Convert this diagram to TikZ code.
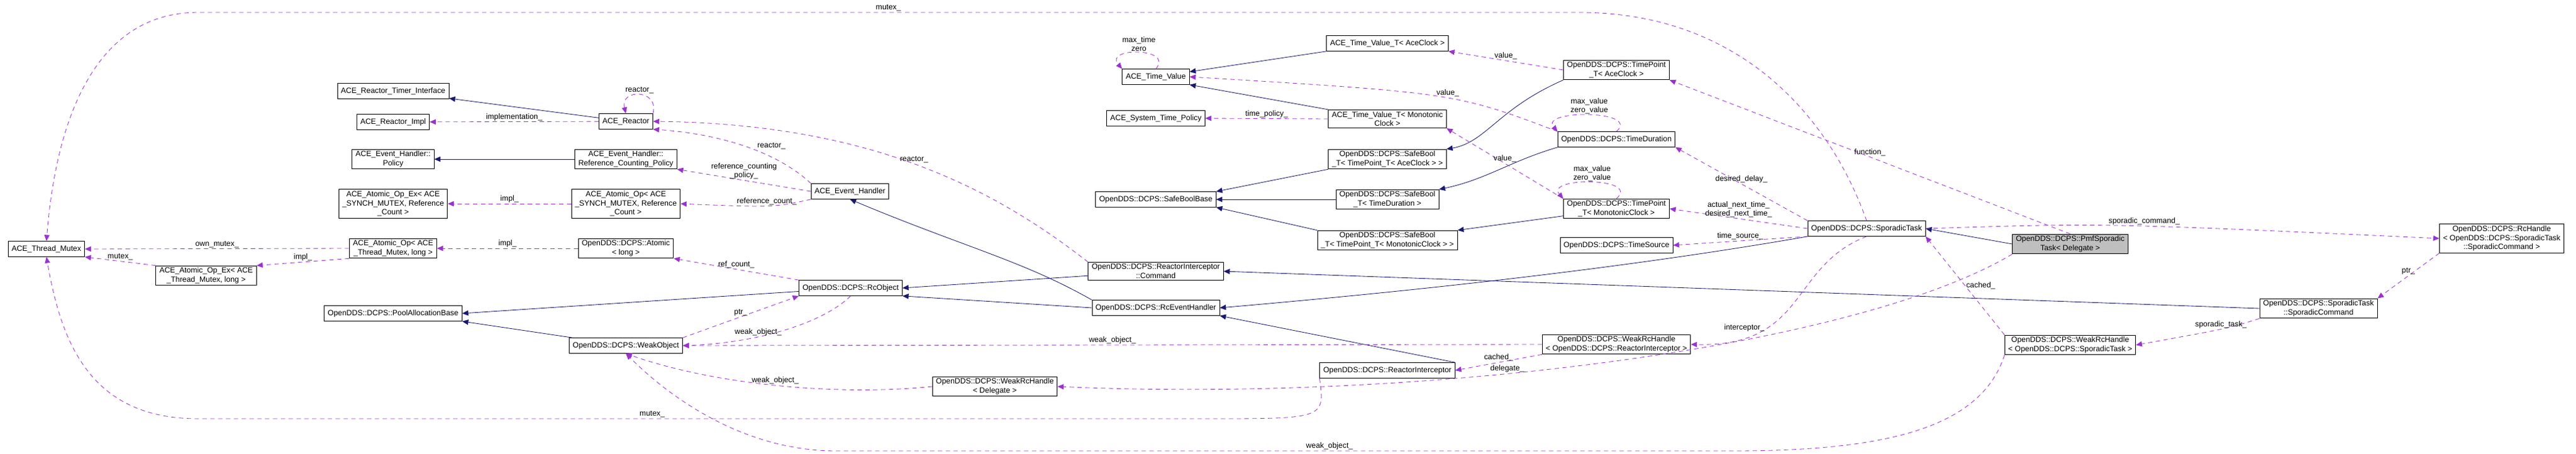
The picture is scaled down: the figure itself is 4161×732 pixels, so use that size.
\documentclass[tikz,border=0pt]{standalone}
\usepackage{fontspec}
\setmainfont{Liberation Sans}
\usetikzlibrary{arrows.meta}
\definecolor{inhcol}{HTML}{191970}
\definecolor{usecol}{HTML}{9A32CD}
\begin{document}
\begin{tikzpicture}[x=0.025cm, y=-0.025cm]

\tikzstyle{box}=[rectangle, draw, semithick, align=center, inner xsep=4pt, inner ysep=2pt, minimum height=0.62cm, font=\fontsize{8.8}{10.4}\selectfont]
\tikzstyle{inh}=[-{Triangle[length=7pt,width=6pt]}, inhcol, semithick]
\tikzstyle{use}=[-{Triangle[length=7pt,width=6pt]}, usecol, semithick, dash pattern=on 5pt off 4pt]
\tikzstyle{lbl}=[font=\fontsize{8.8}{10}\selectfont, text=black, inner sep=1pt, align=center]

\useasboundingbox (0,0) rectangle (4161,732);

% left column
\node (TM) [box] at (75,402) {ACE\_Thread\_Mutex};
\node (AOExTM) [box] at (333,445) {ACE\_Atomic\_Op\_Ex< ACE\\\_Thread\_Mutex, long >};
\node (RTI) [box] at (635,147) {ACE\_Reactor\_Timer\_Interface};
\node (RImpl) [box] at (635,197) {ACE\_Reactor\_Impl};
\node (Pol) [box] at (635,257) {ACE\_Event\_Handler::\\Policy};
\node (AOExS) [box] at (635,329) {ACE\_Atomic\_Op\_Ex< ACE\\\_SYNCH\_MUTEX, Reference\\\_Count >};
\node (AOTM) [box] at (635,401) {ACE\_Atomic\_Op< ACE\\\_Thread\_Mutex, long >};
\node (PAB) [box] at (635,506) {OpenDDS::DCPS::PoolAllocationBase};

\node (Reac) [box] at (1011,196) {ACE\_Reactor};
\node (RCP) [box] at (1011,257) {ACE\_Event\_Handler::\\Reference\_Counting\_Policy};
\node (AOS) [box] at (1011,329) {ACE\_Atomic\_Op< ACE\\\_SYNCH\_MUTEX, Reference\\\_Count >};
\node (Atom) [box] at (1011,401) {OpenDDS::DCPS::Atomic\\< long >};
\node (WO) [box] at (1011,558) {OpenDDS::DCPS::WeakObject};

\node (EH) [box] at (1373,309) {ACE\_Event\_Handler};
\node (RcO) [box] at (1374,465) {OpenDDS::DCPS::RcObject};
\node (WRHD) [box] at (1607,624) {OpenDDS::DCPS::WeakRcHandle\\< Delegate >};

% middle column
\node (TV) [box] at (1867,124) {ACE\_Time\_Value};
\node (STP) [box] at (1867,191) {ACE\_System\_Time\_Policy};
\node (SBB) [box] at (1867,322) {OpenDDS::DCPS::SafeBoolBase};
\node (Cmd) [box] at (1867,438) {OpenDDS::DCPS::ReactorInterceptor\\::Command};
\node (REH) [box] at (1867,497) {OpenDDS::DCPS::RcEventHandler};

\node (TVA) [box] at (2241,70) {ACE\_Time\_Value\_T< AceClock >};
\node (TVM) [box] at (2241,192) {ACE\_Time\_Value\_T< Monotonic\\Clock >};
\node (SBA) [box] at (2241,257) {OpenDDS::DCPS::SafeBool\\\_T< TimePoint\_T< AceClock > >};
\node (SBD) [box] at (2241,322) {OpenDDS::DCPS::SafeBool\\\_T< TimeDuration >};
\node (SBM) [box] at (2241,388) {OpenDDS::DCPS::SafeBool\\\_T< TimePoint\_T< MonotonicClock > >};
\node (RI) [box] at (2241,598) {OpenDDS::DCPS::ReactorInterceptor};

\node (TPA) [box] at (2611,113) {OpenDDS::DCPS::TimePoint\\\_T< AceClock >};
\node (TD) [box] at (2611,225) {OpenDDS::DCPS::TimeDuration};
\node (TPM) [box] at (2611,337) {OpenDDS::DCPS::TimePoint\\\_T< MonotonicClock >};
\node (TS) [box] at (2611,396) {OpenDDS::DCPS::TimeSource};
\node (WRHR) [box] at (2611,556) {OpenDDS::DCPS::WeakRcHandle\\< OpenDDS::DCPS::ReactorInterceptor >};

% right side
\node (ST) [box] at (3015,369) {OpenDDS::DCPS::SporadicTask};
\node (Pmf) [box, fill=black!25] at (3344,394) {OpenDDS::DCPS::PmfSporadic\\Task< Delegate >};
\node (WRHS) [box] at (3344,557) {OpenDDS::DCPS::WeakRcHandle\\< OpenDDS::DCPS::SporadicTask >};
\node (SC) [box] at (3745,498) {OpenDDS::DCPS::SporadicTask\\::SporadicCommand};
\node (RH) [box] at (4041,385) {OpenDDS::DCPS::RcHandle\\< OpenDDS::DCPS::SporadicTask\\::SporadicCommand >};

% inheritance
\draw [inh] (Reac) -- (RTI);
\draw [inh] (RCP) -- (Pol);
\draw [inh] (TVA.south west) -- (TV);
\draw [inh] (TVM.north west) -- (TV.south east);
\draw [inh] (SBA.south west) -- (SBB.north east);
\draw [inh] (SBD) -- (SBB);
\draw [inh] (SBM.north west) -- (SBB.south east);
\draw [inh] (TPA.south west) .. controls (2420,175) and (2400,230) .. (SBA.north east);
\draw [inh] (TD.south west) .. controls (2440,260) and (2400,290) .. (SBD.north east);
\draw [inh] (TPM) -- (SBM.north east);
\draw [inh] (RcO) -- (PAB.east);
\draw [inh] (WO) -- (PAB.south east);
\draw [inh] (Cmd) -- (RcO.east);
\draw [inh] (REH.west) -- (RcO.south east);
\draw [inh] (REH.north west) .. controls (1650,420) and (1560,400) .. (EH.south);
\draw [inh] (RI.north east) -- (REH.south east);
\draw [inh] (ST.south west) .. controls (2700,420) and (2400,460) .. (REH.east);
\draw [inh] (Pmf.west) -- (ST.east);
\draw [inh] (SC.west) -- (Cmd.east);

% usage
\draw [use] (Reac) -- node[lbl, above] {implementation\_} (RImpl);
\draw [use] (Reac.north east) .. controls +(10,-40) and +(-10,-40) .. node[lbl, above] {reactor\_} (Reac.north);
\draw [use] (EH.north west) .. controls (1250,240) and (1150,215) .. node[lbl, above right, pos=.4] {reactor\_} (Reac.south east);
\draw [use] (Cmd.north west) .. controls (1600,300) and (1400,200) .. node[lbl, above, pos=.5] {reactor\_} (Reac.east);
\draw [use] (EH.west) -- node[lbl, above] {reference\_counting\\\_policy\_} (RCP.south east);
\draw [use] (EH.south west) .. controls (1250,335) .. node[lbl, above] {reference\_count\_} (AOS.east);
\draw [use] (AOS) -- node[lbl, above] {impl\_} (AOExS);
\draw [use] (Atom) -- node[lbl, above] {impl\_} (AOTM);
\draw [use] (AOTM.west) -- node[lbl, above] {own\_mutex\_} (TM.east);
\draw [use] (AOTM.south west) -- node[lbl, above] {impl\_} (AOExTM.north east);
\draw [use] (AOExTM.north west) -- node[lbl, above] {mutex\_} (TM.south east);
\draw [use] (RcO.north west) -- node[lbl, above] {ref\_count\_} (Atom.south east);
\draw [use] (WO.north east) -- node[lbl, above] {ptr\_} (RcO.south west);
\draw [use] (RcO.south) .. controls (1320,530) and (1200,555) .. node[lbl, above, pos=.6] {weak\_object\_} (WO.east);
\draw [use] (WRHR.west) -- node[lbl, above] {weak\_object\_} (WO.east);
\draw [use] (WRHD.west) .. controls (1350,640) and (1150,620) .. node[lbl, above, pos=.5] {weak\_object\_} (WO.south);
\draw [use] (WRHS.south west) .. controls (3200,690) and (3050,728) .. (2800,728) -- node[lbl, above, pos=.45] {weak\_object\_} (1350,728) .. controls (1200,728) and (1080,640) .. (WO.south);
\draw [use] (ST.north) .. controls (2960,200) and (2820,20) .. (2550,20) -- node[lbl, above] {mutex\_} (320,20) .. controls (150,20) and (90,200) .. (TM.north);
\draw [use] (RI.south west) .. controls (2140,676) .. (1950,676) -- node[lbl, above, pos=.55] {mutex\_} (320,676) .. controls (150,676) and (100,560) .. (TM.south);
\draw [use] (TV.north) .. controls +(30,-35) and +(-30,-35) .. node[lbl, above] {max\_time\\zero} (TV.north west);
\draw [use] (TVM.west) -- node[lbl, above] {time\_policy\_} (STP.east);
\draw [use] (TPA.west) -- node[lbl, above] {value\_} (TVA.south east);
\draw [use] (TD.north west) .. controls (2350,150) .. node[lbl, above, pos=.45] {value\_} (TV.east);
\draw [use] (TD.north) .. controls +(40,-35) and +(-30,-35) .. node[lbl, above] {max\_value\\zero\_value} (TD.north west);
\draw [use] (TPM.north west) -- node[lbl, above] {value\_} (TVM.south east);
\draw [use] (TPM.north) .. controls +(40,-35) and +(-30,-35) .. node[lbl, above] {max\_value\\zero\_value} (TPM.north west);
\draw [use] (ST.north west) -- node[lbl, above] {desired\_delay\_} (TD.south east);
\draw [use] (ST.west) -- node[lbl, above] {actual\_next\_time\_\\desired\_next\_time\_} (TPM.east);
\draw [use] (ST.south west) -- node[lbl, above] {time\_source\_} (TS.east);
\draw [use] (ST.south) .. controls (2890,430) and (2920,560) .. node[lbl, left, pos=.7] {interceptor\_} (WRHR.east);
\draw [use] (WRHR.south west) -- node[lbl, above] {cached\_} (RI.east);
\draw [use] (Pmf.north) -- node[lbl, above, pos=.5] {function\_} (TPA.south east);
\draw [use] (ST.east) .. controls (3400,360) .. node[lbl, above, pos=.55] {sporadic\_command\_} (RH.west);
\draw [use] (RH.south west) -- node[lbl, above] {ptr\_} (SC.north east);
\draw [use] (SC.south west) .. controls (3600,530) .. node[lbl, above] {sporadic\_task\_} (WRHS.east);
\draw [use] (WRHS.north west) -- node[lbl, right] {cached\_} (ST.south east);
\draw [use] (Pmf.south west) .. controls (3000,560) and (2300,650) .. node[lbl, above, pos=.6] {delegate\_} (WRHD.east);

\end{tikzpicture}
\end{document}
